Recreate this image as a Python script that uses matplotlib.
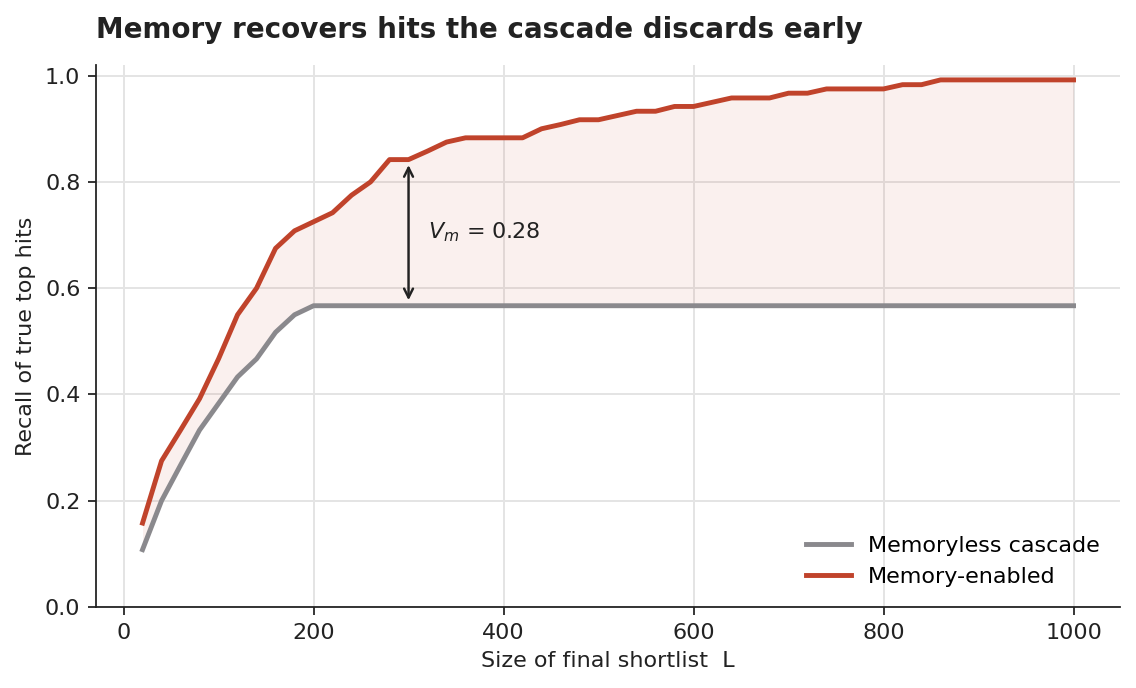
import numpy as np
import matplotlib.pyplot as plt

# shortlist sizes and recall values
L = np.arange(20, 1001, 20)

memoryless = [0.108, 0.200, 0.267, 0.333, 0.383, 0.433, 0.467, 0.517, 0.550, 0.567] + [0.567] * 40

memory = [0.158, 0.275, 0.333, 0.392, 0.467, 0.550, 0.600, 0.675, 0.708, 0.725,
          0.742, 0.775, 0.800, 0.842, 0.842, 0.858, 0.875, 0.883, 0.883, 0.883,
          0.883, 0.900, 0.908, 0.917, 0.917, 0.925, 0.933, 0.933, 0.942, 0.942,
          0.950, 0.958, 0.958, 0.958, 0.967, 0.967, 0.975, 0.975, 0.975, 0.975,
          0.983, 0.983, 0.992, 0.992, 0.992, 0.992, 0.992, 0.992, 0.992, 0.992]

arrow_x = 300
vm_label = '$V_m$ = 0.28'

grey = '#8a898d'
red = '#c0432b'

fig = plt.figure(figsize=(7.1, 4.3), dpi=160)
ax = fig.add_axes([0.0845, 0.1177, 0.9015, 0.7878])

ax.fill_between(L, memoryless, memory, color=red, alpha=0.08, linewidth=0)
ax.plot(L, memoryless, color=grey, lw=2.2, label='Memoryless cascade')
ax.plot(L, memory, color=red, lw=2.2, label='Memory-enabled')

i = list(L).index(arrow_x)
ax.annotate('', xy=(arrow_x, memory[i] - 0.002), xytext=(arrow_x, memoryless[i] + 0.002),
            arrowprops=dict(arrowstyle='<->', color='#222222', lw=1.1))
ax.text(arrow_x + 20, (memory[i] + memoryless[i]) / 2, vm_label, fontsize=10,
        color='#222222', va='center')

ax.set_ylim(0, 1.02)
ax.set_xlabel('Size of final shortlist  L', fontsize=10, color='#222222')
ax.set_ylabel('Recall of true top hits', fontsize=10, color='#222222')
ax.set_title('Memory recovers hits the cascade discards early', loc='left',
             fontsize=12.5, fontweight='bold', color='#222222', pad=12)
ax.grid(True, color='#e4e4e4', lw=0.9)
ax.set_axisbelow(True)
for s in ['top', 'right']:
    ax.spines[s].set_visible(False)
for s in ['left', 'bottom']:
    ax.spines[s].set_color('#222222')
ax.tick_params(labelsize=10, colors='#222222')
ax.legend(loc='lower right', frameon=False, fontsize=10)

fig.savefig('out.png', dpi=160)
